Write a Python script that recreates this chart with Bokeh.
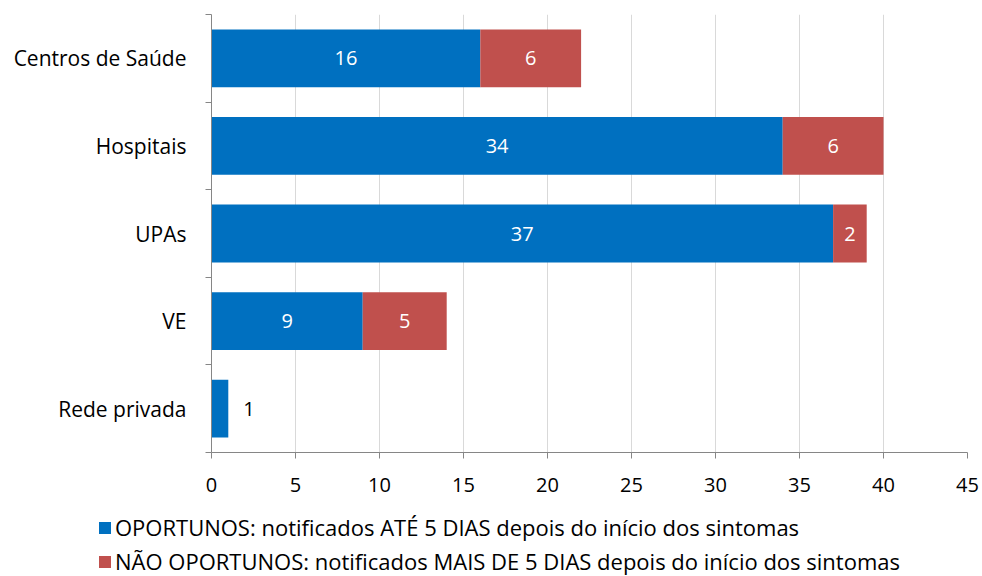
from bokeh.plotting import figure
from bokeh.models import ColumnDataSource, Range1d, FixedTicker, Legend, LegendItem
from bokeh.layouts import column, row
from bokeh.core.properties import value
from bokeh.embed import file_html
from bokeh.resources import INLINE

categories = ["Centros de Saúde", "Hospitais", "UPAs", "VE", "Rede privada"]
oportunos = [16, 34, 37, 9, 1]
nao_oportunos = [6, 6, 2, 5, 0]
x_ticks = [0, 5, 10, 15, 20, 25, 30, 35, 40, 45]
series_labels = [
    "OPORTUNOS: notificados ATÉ 5 DIAS depois do início dos sintomas",
    "NÃO OPORTUNOS: notificados MAIS DE 5 DIAS depois do início dos sintomas",
]
colors = ["#0070C0", "#C0504D"]

FONT = "Open Sans"
n = len(categories)
ypos = [n - i for i in range(n)]

src = ColumnDataSource(dict(y=ypos, cat=categories, op=oportunos, nao=nao_oportunos))

p = figure(width=982, height=500, output_backend="svg", toolbar_location=None,
           x_range=Range1d(0, 45), y_range=Range1d(0.5, n + 0.5),
           min_border_left=211, min_border_right=15, min_border_top=14, min_border_bottom=48)
p.outline_line_color = None

rs = p.hbar_stack(["op", "nao"], y="y", height=0.66, color=colors, line_color=None, source=src)

# labels
in_x, in_y, in_t = [], [], []
out_x, out_y, out_t = [], [], []
for i in range(n):
    left = 0
    for v in (oportunos[i], nao_oportunos[i]):
        if v > 0:
            if v >= 2:
                in_x.append(left + v / 2); in_y.append(ypos[i]); in_t.append(str(v))
            else:
                out_x.append(left + v); out_y.append(ypos[i]); out_t.append(str(v))
        left += v
p.text(x=in_x, y=in_y, text=in_t, text_color="white", text_align="center", text_baseline="middle",
       text_font=value(FONT), text_font_size="20px")
p.text(x=out_x, y=out_y, text=out_t, text_color="black", text_align="left", text_baseline="middle",
       x_offset=15, text_font=value(FONT), text_font_size="20px")

# x axis
p.xaxis.ticker = FixedTicker(ticks=x_ticks)
p.xaxis.axis_line_color = "#868686"
p.xaxis.major_tick_line_color = "#868686"
p.xaxis.major_tick_out = 6
p.xaxis.major_tick_in = 0
p.xaxis.minor_tick_line_color = None
p.xaxis.major_label_standoff = 19
p.xaxis.major_label_text_font = FONT
p.xaxis.major_label_text_font_size = "20px"
p.xaxis.major_label_text_color = "black"

# y axis
p.yaxis.ticker = FixedTicker(ticks=ypos, minor_ticks=[k + 0.5 for k in range(n + 1)])
p.yaxis.major_label_overrides = {ypos[i]: categories[i] for i in range(n)}
p.yaxis.axis_line_color = "#868686"
p.yaxis.major_tick_line_color = None
p.yaxis.major_tick_out = 0
p.yaxis.major_tick_in = 0
p.yaxis.minor_tick_line_color = "#868686"
p.yaxis.minor_tick_out = 6
p.yaxis.minor_tick_in = 0
p.yaxis.major_label_standoff = 19
p.yaxis.major_label_text_font = FONT
p.yaxis.major_label_text_font_size = "21px"
p.yaxis.major_label_text_color = "black"

p.xgrid.grid_line_color = "#d9d9d9"
p.xgrid.ticker = FixedTicker(ticks=x_ticks)
p.ygrid.grid_line_color = None

# legend figure (series glyphs kept outside its visible range)
p2 = figure(width=982, height=76, output_backend="svg", toolbar_location=None,
            x_range=Range1d(100, 101), y_range=Range1d(100, 101),
            x_axis_type=None, y_axis_type=None,
            min_border_left=0, min_border_right=0, min_border_top=0, min_border_bottom=0)
p2.grid.grid_line_color = None
p2.outline_line_color = None
lr = [p2.hbar(y="y", right=col, height=0.66, color=c, line_color=None, source=src)
      for col, c in zip(["op", "nao"], colors)]
legend = Legend(items=[LegendItem(label=series_labels[k], renderers=[lr[k]]) for k in range(2)],
                location=(97, 0), orientation="vertical",
                border_line_color=None, background_fill_alpha=0,
                padding=0, margin=0, spacing=4, glyph_width=15, glyph_height=15,
                label_standoff=3, label_height=20, label_text_font=FONT,
                label_text_font_size="22px", label_text_color="black")
p2.add_layout(legend)

open("out.html", "w").write(file_html(column(p, row(p2)), INLINE))
